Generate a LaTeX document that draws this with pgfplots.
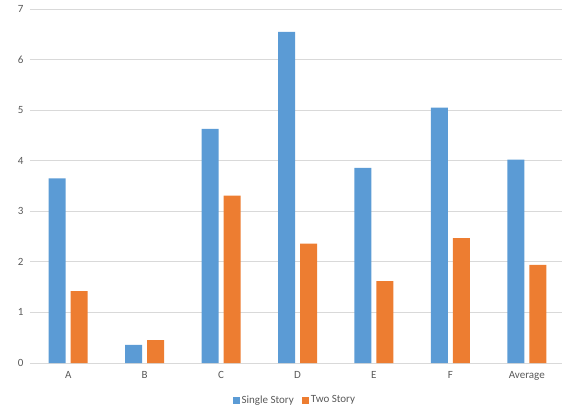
\documentclass[border=0pt]{standalone}
\usepackage{fontspec}
\setmainfont{Carlito}
\usepackage{pgfplots}
\pgfplotsset{compat=1.18}
\definecolor{sblue}{HTML}{5B9BD5}
\definecolor{sorange}{HTML}{ED7D31}
\definecolor{gridc}{HTML}{D9D9D9}
\definecolor{txt}{HTML}{595959}
\begin{document}
\begin{tikzpicture}
\path[use as bounding box] (-30pt,-47pt) rectangle (532pt,363pt);
\begin{axis}[
  at={(0,0)}, anchor=south west,
  scale only axis, width=535pt, height=354pt,
  ybar=5pt, bar width=17pt,
  xmin=-0.5, xmax=6.5, ymin=0, ymax=7,
  ytick={0,...,7},
  xtick=data, xticklabels={A,B,C,D,E,F,Average},
  axis line style={draw=none},
  major tick length=0pt,
  ymajorgrids, grid style={gridc, line width=0.8pt},
  tick label style={font=\fontsize{11}{13}\selectfont, text=txt},
  /pgf/number format/assume math mode=true,
  yticklabel style={xshift=-3pt},
  xticklabel style={yshift=-5pt},
  legend style={at={(0.495,-0.105)}, anchor=center, draw=none, legend columns=2,
    font=\fontsize{11}{13}\selectfont, text=txt, fill=none,
    /tikz/every even column/.append style={column sep=6pt}},
  legend image code/.code={\fill[#1] (0pt,-3.5pt) rectangle (7pt,3.5pt);},
]
\addplot[fill=sblue, draw=none] coordinates {(0,3.65) (1,0.36) (2,4.63) (3,6.55) (4,3.86) (5,5.05) (6,4.02)};
\addplot[fill=sorange, draw=none] coordinates {(0,1.42) (1,0.45) (2,3.31) (3,2.36) (4,1.62) (5,2.47) (6,1.94)};
\legend{Single Story, Two Story}
\end{axis}
\end{tikzpicture}
\end{document}
